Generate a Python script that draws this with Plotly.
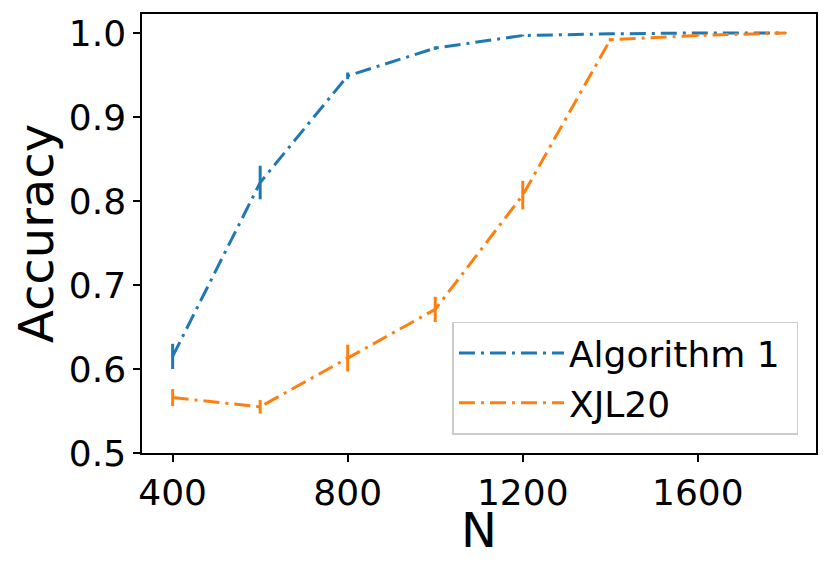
import plotly.graph_objects as go

N = [400, 600, 800, 1000, 1200, 1400, 1600, 1800]

alg1_acc = [0.615, 0.822, 0.949, 0.982, 0.997, 0.999, 1.000, 1.000]
alg1_err = [0.015, 0.020, 0.004, 0.002, 0.001, 0.001, 0.0005, 0.0005]

xjl_acc = [0.566, 0.555, 0.613, 0.671, 0.807, 0.992, 0.997, 1.000]
xjl_err = [0.010, 0.008, 0.016, 0.015, 0.017, 0.002, 0.001, 0.0005]

x_ticks = [400, 800, 1200, 1600]
y_ticks = [0.5, 0.6, 0.7, 0.8, 0.9, 1.0]

BLUE = '#1f77b4'
ORANGE = '#ff7f0e'
DASH = '16px,6px,3px,6px'

fig = go.Figure()
# trailing nbsp gives the legend box some right padding like matplotlib's
for name, acc, err, color in [('Algorithm 1\u00a0', alg1_acc, alg1_err, BLUE),
                              ('XJL20', xjl_acc, xjl_err, ORANGE)]:
    fig.add_trace(go.Scatter(
        x=N, y=acc, name=name, mode='lines',
        line=dict(color=color, width=3, dash=DASH),
        error_y=dict(type='data', array=err, visible=True,
                     color=color, thickness=3, width=0),
    ))

axis_common = dict(
    showgrid=False, zeroline=False, showline=True, mirror=True,
    linecolor='black', linewidth=1.5, ticks='outside', ticklen=7,
    tickwidth=1.5, tickcolor='black', automargin=False,
    tickfont=dict(family='DejaVu Sans', size=36, color='black'),
)

fig.update_xaxes(range=[330, 1870], tickvals=x_ticks, **axis_common)
fig.update_yaxes(range=[0.5, 1.0226], tickvals=y_ticks, tickformat='.1f',
                 title=dict(text='Accuracy', standoff=14,
                            font=dict(family='DejaVu Sans', size=48, color='black')),
                 **axis_common)

# x title as annotation, plotly's standoff puts it too low
fig.add_annotation(text='N', xref='paper', yref='paper', x=0.5, y=-0.176,
                   xanchor='center', yanchor='middle', showarrow=False,
                   font=dict(family='DejaVu Sans', size=48, color='black'))

# page body has an 8px margin, so the figure is sized to the space left
fig.update_layout(
    width=823, height=564,
    margin=dict(l=134, r=15, t=6, b=119),
    paper_bgcolor='white', plot_bgcolor='white',
    font=dict(family='DejaVu Sans', color='black'),
    legend=dict(x=0.974, y=0.042, xanchor='right', yanchor='bottom',
                bgcolor='white', bordercolor='#cccccc', borderwidth=1.5,
                font=dict(family='DejaVu Sans', size=36, color='black'),
                itemwidth=105),
)

fig.write_html("out.html")
